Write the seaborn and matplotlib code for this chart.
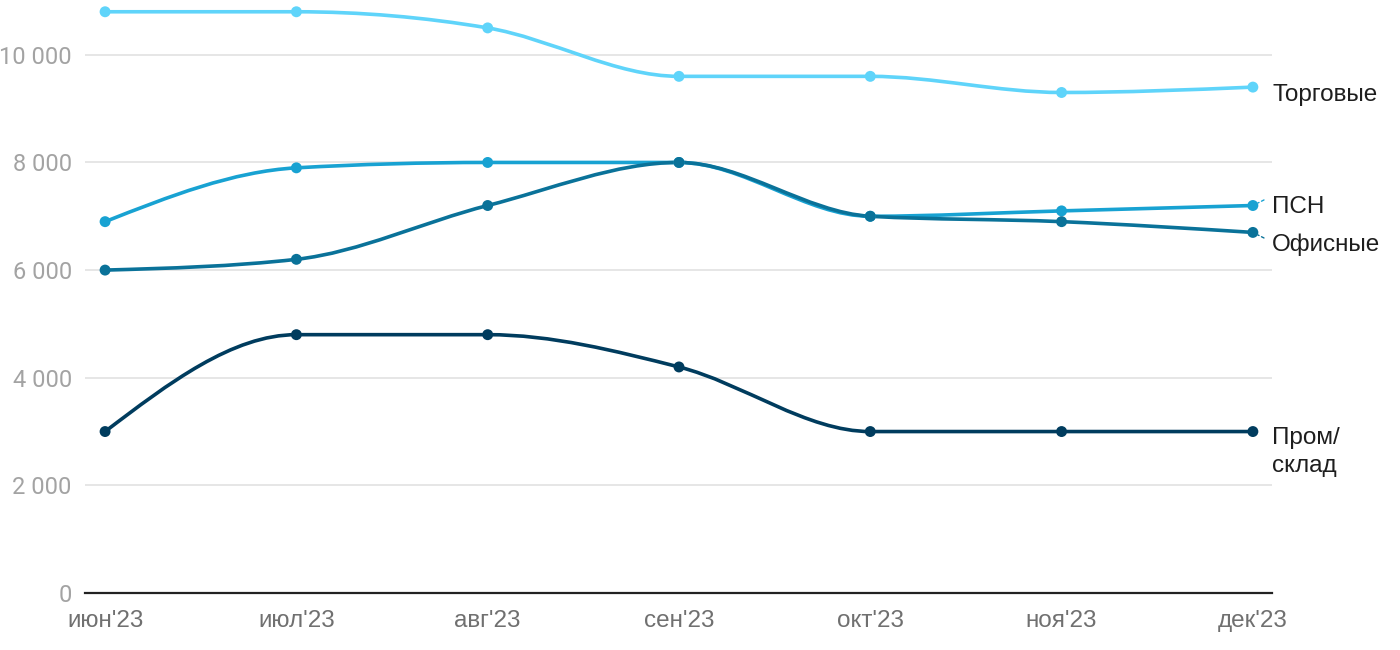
import numpy as np
import pandas as pd
import matplotlib
matplotlib.use("Agg")
import matplotlib.pyplot as plt
from matplotlib.path import Path
from matplotlib.patches import PathPatch
import seaborn as sns

months = ["июн'23", "июл'23", "авг'23", "сен'23", "окт'23", "ноя'23", "дек'23"]
torgovye = [10800, 10800, 10500, 9600, 9600, 9300, 9400]
psn = [6900, 7900, 8000, 8000, 7000, 7100, 7200]
ofisnye = [6000, 6200, 7200, 8000, 7000, 6900, 6700]
prom = [3000, 4800, 4800, 4200, 3000, 3000, 3000]
series_names = ["Торговые", "ПСН", "Офисные", "Пром/\nсклад"]
series_values = [torgovye, psn, ofisnye, prom]
colors = ["#5fd4fa", "#18a2d2", "#0a7299", "#003c5e"]
yticks = [0, 2000, 4000, 6000, 8000, 10000]
ytick_labels = ["0", "2 000", "4 000", "6 000", "8 000", "10 000"]

sns.set_theme(style="white")
plt.rcParams['font.family'] = ['Liberation Sans', 'DejaVu Sans']

fig = plt.figure(figsize=(14, 6.5), dpi=100)
ax = fig.add_axes([85/1400, 57/650, (1272-85)/1400, (649-57)/650])

df = pd.DataFrame({
    "x": np.tile(np.arange(len(months)), len(series_names)),
    "y": np.concatenate(series_values),
    "s": np.repeat(series_names, len(months)),
})


def monotone_path(xs, ys):
    xs = np.asarray(xs, float)
    ys = np.asarray(ys, float)
    n = len(xs)
    h = np.diff(xs)
    s = np.diff(ys) / h
    t = np.zeros(n)
    for i in range(1, n - 1):
        h0, h1 = h[i - 1], h[i]
        s0, s1 = s[i - 1], s[i]
        p = (s0 * h1 + s1 * h0) / (h0 + h1)
        t[i] = (np.sign(s0) + np.sign(s1)) * min(abs(s0), abs(s1), 0.5 * abs(p))
    t[0] = (3 * s[0] - t[1]) / 2
    t[-1] = (3 * s[-1] - t[-2]) / 2
    verts = [(xs[0], ys[0])]
    codes = [Path.MOVETO]
    for i in range(n - 1):
        dx = (xs[i + 1] - xs[i]) / 3
        verts += [(xs[i] + dx, ys[i] + dx * t[i]),
                  (xs[i + 1] - dx, ys[i + 1] - dx * t[i + 1]),
                  (xs[i + 1], ys[i + 1])]
        codes += [Path.CURVE4] * 3
    return Path(verts, codes)


for name, vals, c in zip(series_names, series_values, colors):
    patch = PathPatch(monotone_path(range(len(vals)), vals), facecolor="none",
                      edgecolor=c, lw=2.6, capstyle="round", joinstyle="round",
                      zorder=3, clip_on=False)
    ax.add_patch(patch)

sns.scatterplot(data=df, x="x", y="y", hue="s", palette=colors, hue_order=series_names,
                s=62, edgecolor="none", legend=False, ax=ax, zorder=4, clip_on=False)

ax.set_xlim(-0.105, 6.1)
ax.set_ylim(0, 11000)
ax.set_yticks(yticks)
ax.set_yticklabels(ytick_labels, family=['Roboto', 'DejaVu Sans'])
ax.set_xticks(range(len(months)))
ax.set_xticklabels(months)
ax.set_xlabel("")
ax.set_ylabel("")
for yv in yticks[1:]:
    ax.axhline(yv, color="#e2e2e2", lw=1.2, zorder=1)
for sp in ["top", "right", "left"]:
    ax.spines[sp].set_visible(False)
ax.spines["bottom"].set_color("#222222")
ax.spines["bottom"].set_linewidth(1.6)
ax.tick_params(axis="y", length=0, pad=9.5, labelsize=17, labelcolor="#a3a3a3")
ax.tick_params(axis="x", length=0, pad=12, labelsize=17.5, labelcolor="#707070")

# end labels
label_offsets = [(14, -6), (14, -1), (14, -9), (14, 3)]
vas = ["center", "center", "center", "top"]
for name, vals, c, off, va in zip(series_names, series_values, colors, label_offsets, vas):
    ax.annotate(name, xy=(6, vals[-1]), xytext=off, textcoords="offset points",
                ha="left", va=va, fontsize=17.5, color="#1e1e1e", linespacing=1.32,
                annotation_clip=False)

# small connectors
ax.annotate("", xy=(6, psn[-1]), xytext=(8, 4), textcoords="offset points",
            arrowprops=dict(arrowstyle="-", color=colors[1], lw=1, ls=(0, (2, 2)),
                            shrinkA=0, shrinkB=4), annotation_clip=False)
ax.annotate("", xy=(6, ofisnye[-1]), xytext=(8, -4), textcoords="offset points",
            arrowprops=dict(arrowstyle="-", color=colors[2], lw=1, ls=(0, (2, 2)),
                            shrinkA=0, shrinkB=4), annotation_clip=False)

fig.savefig("out.png", dpi=100)
